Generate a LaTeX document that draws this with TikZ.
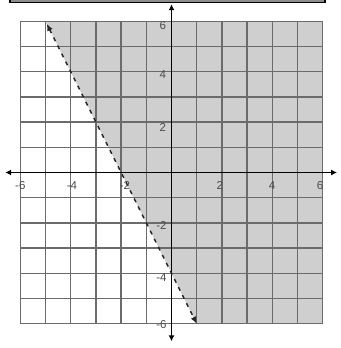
\documentclass[tikz,border=0pt]{standalone}
\usepackage{fontspec}
\setmainfont{Liberation Sans}
\usetikzlibrary{arrows.meta}
\begin{document}
\begin{tikzpicture}[x={(25.2pt,0)},y={(0,25.2pt)},
  gridline/.style={draw=black!58,line width=1.4pt},
  axisline/.style={draw=black,line width=1.9pt,{Latex[length=6pt,width=6pt]}-{Latex[length=6pt,width=6pt]}},
  boundary/.style={draw=black!85,line width=1.5pt,dash pattern=on 4pt off 5pt,{Latex[length=7pt,width=6pt]}-{Latex[length=7pt,width=6pt]}},
  tick/.style={font=\fontsize{11.5}{11.5}\selectfont,text=black!70,inner sep=0pt}]
\useasboundingbox (-6.806,-6.964) rectangle (6.687,6.845);
% top bar (bottom edge of a box above)
\fill[black!45] (-6.41,6.74) rectangle (6.09,7.3);
\draw[black,line width=1.6pt] (-6.41,7.3) -- (-6.41,6.74) -- (6.09,6.74) -- (6.09,7.3);
% shaded region
\fill[black!19] (-5,6) -- (6,6) -- (6,-6) -- (1,-6) -- cycle;
% grid
\foreach \k in {-6,...,6} {
  \draw[gridline] (\k,-6) -- (\k,6);
  \draw[gridline] (-6,\k) -- (6,\k);
}
% axes
\coordinate (xl) at (-6.6,0);
\coordinate (xr) at (6.57,0);
\coordinate (yt) at (0,6.68);
\coordinate (yb) at (0,-6.7);
\draw[axisline] (xl) -- (xr);
\draw[axisline] (yb) -- (yt);
% boundary line y = -2x - 4
\coordinate (lt) at (-4.95,5.9);
\coordinate (lb) at (1.0,-6.0);
\draw[boundary] (lt) -- (lb);
% x labels
\node[tick] (xm6) at (-6.0,-0.5) {-6};
\node[tick] (xm4) at (-3.95,-0.5) {-4};
\node[tick] (xm2) at (-1.85,-0.5) {-2};
\node[tick] (xp2) at (1.92,-0.5) {2};
\node[tick] (xp4) at (3.99,-0.5) {4};
\node[tick] (xp6) at (5.89,-0.5) {6};
% y labels
\node[tick] (yp6) at (-0.34,5.85) {6};
\node[tick] (yp4) at (-0.34,3.87) {4};
\node[tick] (yp2) at (-0.34,1.8) {2};
\node[tick] (ym2) at (-0.4,-2.12) {-2};
\node[tick] (ym4) at (-0.4,-4.15) {-4};
\node[tick] (ym6) at (-0.4,-6.05) {-6};
\end{tikzpicture}
\end{document}
